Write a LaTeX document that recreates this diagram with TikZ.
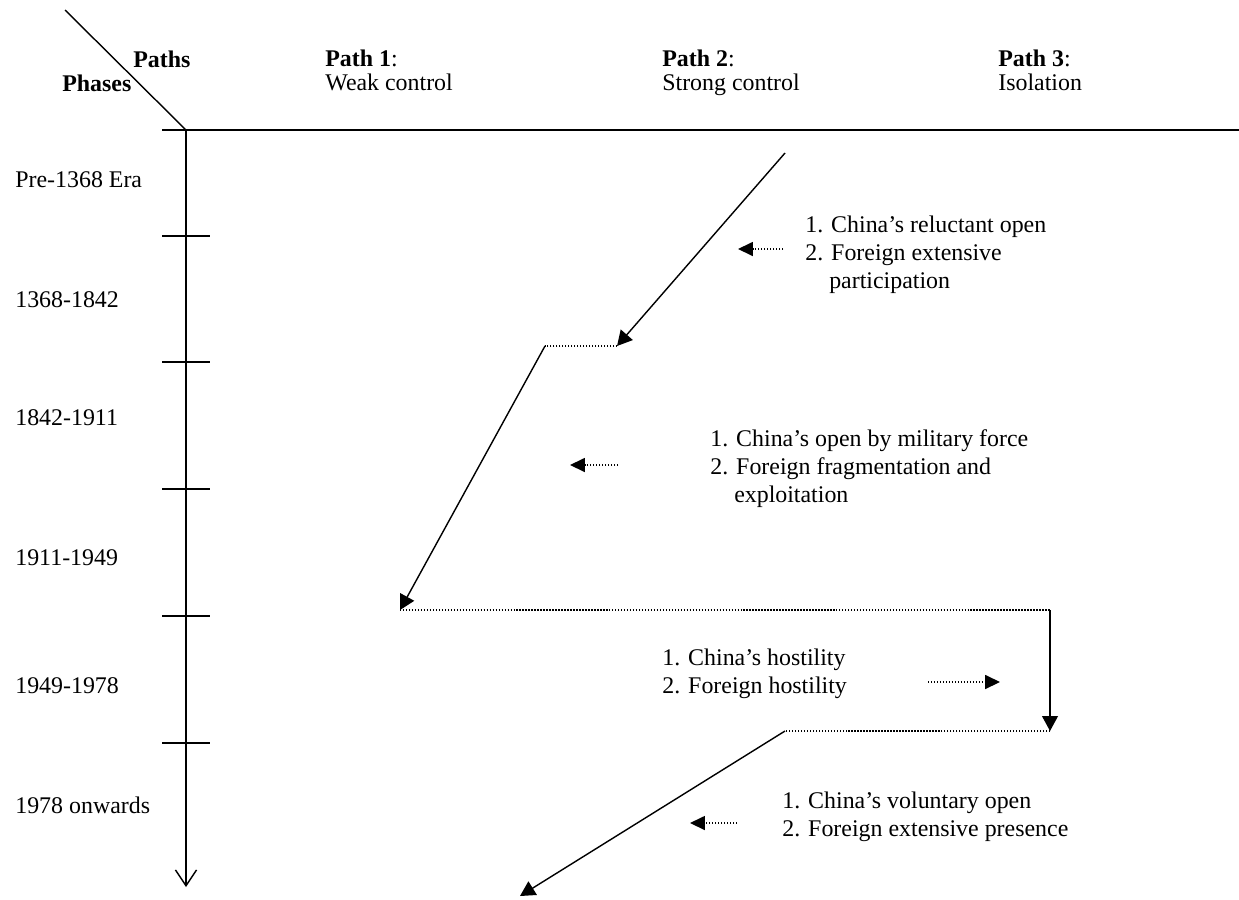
\documentclass[tikz,border=0pt]{standalone}
\usepackage{fontspec}
\setmainfont{Liberation Serif}
\usetikzlibrary{arrows.meta}
\tikzset{
  ln/.style={line width=0.8pt},
  ar/.style={ln,-{Triangle[length=8.5pt,width=9pt]}},
  dt/.style={ln,dash pattern=on 0.8pt off 0.9pt},
  dar/.style={dt,-{Triangle[length=8.5pt,width=8pt]}},
  lbl/.style={anchor=base west,inner sep=0pt,align=left,font=\fontsize{13.6}{15.7}\selectfont},
  hdr/.style={lbl,font=\fontsize{13.6}{13.2}\selectfont}
}
\begin{document}
\begin{tikzpicture}[x=0.02cm,y=-0.02cm]
\useasboundingbox (0,0) rectangle (1239,899);
% header corner and time axis
\coordinate (dg) at (65,10);
\coordinate (o) at (186,130);
\coordinate (hl) at (162,130);
\coordinate (hr) at (1239,130);
\coordinate (ax) at (186,887);
\draw[ln] (dg) -- (o);
\draw[ln] (hl) -- (o) -- (hr);
\draw[ln,-{Straight Barb[length=9pt,width=12pt]}] (o) -- (ax);
\foreach \y in {236,362,489,616,743}
  \draw[ln] (162,\y) -- (210,\y);
\node[hdr] (paths) at (133,67) {\bfseries Paths};
\node[hdr] (phases) at (62,91) {\bfseries Phases};
\node[hdr] (path1) at (325,90) {\textbf{Path 1}:\\Weak control};
\node[hdr] (path2) at (662,90) {\textbf{Path 2}:\\Strong control};
\node[hdr] (path3) at (998,90) {\textbf{Path 3}:\\Isolation};
% phases
\foreach \y/\t/\n in {187/Pre-1368 Era/ph0,307/1368-1842/ph1,425/1842-1911/ph2,
    565/1911-1949/ph3,693/1949-1978/ph4,813/1978 onwards/ph5}
  \node[lbl] (\n) at (15,\y) {\t};
% route
\coordinate (s0) at (785,153);
\coordinate (s1) at (617,346);
\coordinate (s2) at (545,346);
\coordinate (s3) at (400,610);
\coordinate (s4) at (1050,610);
\coordinate (s5) at (1050,731);
\coordinate (s6) at (785,731);
\coordinate (s7) at (520,896);
\draw[ar] (s0) -- (s1);
\draw[dt] (s1) -- (s2);
\draw[ar] (s2) -- (s3);
\draw[dt] (s3) -- (s4);
\draw[ar] (s4) -- (s5);
\draw[dt] (s5) -- (s6);
\draw[ar] (s6) -- (s7);
% notes
\node[lbl] (n1) at (805,288) {1. China's reluctant open\\2. Foreign extensive\\\phantom{2.\ }participation};
\node[lbl] (n2) at (710,502) {1. China's open by military force\\2. Foreign fragmentation and\\\phantom{2.\ }exploitation};
\node[lbl] (n3) at (662,693) {1. China's hostility\\2. Foreign hostility};
\node[lbl] (n4) at (782,836) {1. China's voluntary open\\2. Foreign extensive presence};
\coordinate (a1) at (783,249); \coordinate (b1) at (738,249);
\coordinate (a2) at (618,465); \coordinate (b2) at (570,465);
\coordinate (a3) at (928,682); \coordinate (b3) at (1000,682);
\coordinate (a4) at (737,823); \coordinate (b4) at (690,823);
\draw[dar] (a1) -- (b1);
\draw[dar] (a2) -- (b2);
\draw[dar] (a3) -- (b3);
\draw[dar] (a4) -- (b4);
\end{tikzpicture}
\end{document}
